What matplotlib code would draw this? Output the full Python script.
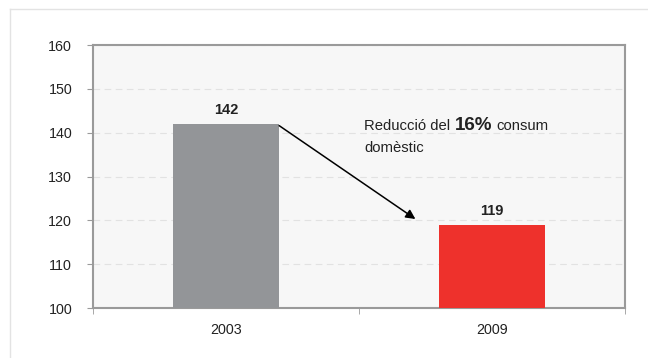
"""
Consum domestic: 2003 vs 2009 bar chart with reduction annotation.
"""

import matplotlib
matplotlib.use("Agg")
import matplotlib.pyplot as plt
from matplotlib.lines import Line2D
from matplotlib.offsetbox import TextArea, HPacker, VPacker, AnnotationBbox

years = ["2003", "2009"]
values = [142, 119]
bar_colors = ["#939598", "#ee312c"]

plt.rcParams["font.family"] = ["Liberation Sans", "DejaVu Sans"]

fig = plt.figure(figsize=(6.48, 3.58), dpi=100)
ax = fig.add_axes([93 / 648, 1 - 308 / 358, 532 / 648, 263 / 358])
ax.set_facecolor("#f7f7f7")

x = list(range(len(years)))
ax.bar(x, values, width=0.4, color=bar_colors, zorder=3)

for xi, v in zip(x, values):
    ax.annotate(str(v), (xi, v), xytext=(0, 5), textcoords="offset points",
                ha="center", va="bottom", fontsize=10.5, fontweight="bold",
                color="#222222")

ax.set_xlim(-0.5, 1.5)
ax.set_ylim(100, 160)
ax.set_yticks(range(100, 161, 10))
ax.set_xticks(x)
ax.set_xticklabels(years)
ax.set_xticks([-0.5, 0.5, 1.5], minor=True)
ax.tick_params(axis="x", which="major", length=0, pad=11, labelsize=10.3, labelcolor="#222222")
ax.tick_params(axis="x", which="minor", length=4, color="#9a9a9a")
ax.tick_params(axis="y", length=4, color="#9a9a9a", pad=11, labelsize=10.3, labelcolor="#222222")

ax.yaxis.grid(True, color="#e2e2e2", linestyle=(0, (6, 4)), linewidth=0.8, zorder=0)
for s in ax.spines.values():
    s.set_color("#9a9a9a")
    s.set_linewidth(1.5)

# arrow from the 2003 bar to the 2009 bar
ax.annotate("", xy=(0.712, 120.3), xytext=(0.2, 141.6),
            arrowprops=dict(arrowstyle="-|>", color="black", lw=1.1,
                            mutation_scale=14, shrinkA=0, shrinkB=0),
            zorder=5)

txt = dict(fontsize=10.7, color="#222222")
line1 = HPacker(children=[
    TextArea("Reducció del", textprops=txt),
    TextArea("16%", textprops=dict(fontsize=13.5, fontweight="bold", color="#222222")),
    TextArea("consum", textprops=txt),
], align="baseline", pad=0, sep=3)
line2 = TextArea("domèstic", textprops=txt)
box = VPacker(children=[line1, line2], align="left", pad=0, sep=5)
ab = AnnotationBbox(box, (0.52, 143.6), xycoords="data", box_alignment=(0, 1),
                    frameon=False, pad=0)
ax.add_artist(ab)

# light outer frame
fig.add_artist(Line2D([10 / 648, 10 / 648], [0, 1 - 9 / 358], transform=fig.transFigure,
                      color="#e3e3e3", lw=1))
fig.add_artist(Line2D([10 / 648, 1], [1 - 9 / 358, 1 - 9 / 358], transform=fig.transFigure,
                      color="#e3e3e3", lw=1))

fig.savefig("out.png", dpi=100)
